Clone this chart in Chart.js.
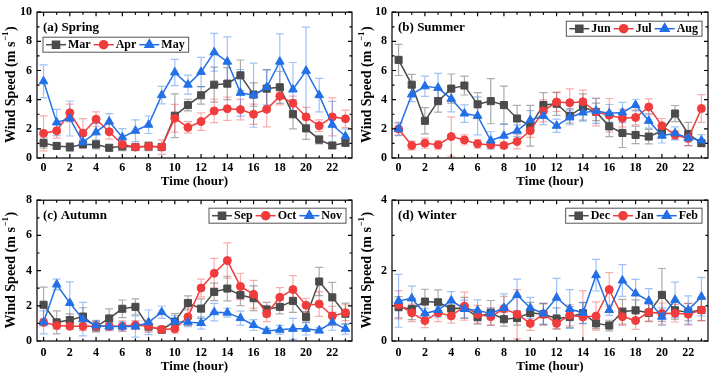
<!DOCTYPE html>
<html>
<head>
<meta charset="utf-8">
<script src="https://cdn.jsdelivr.net/npm/chart.js@4.4.1/dist/chart.umd.min.js"></script>
<style>
body{margin:0;background:#fff;}
#wrap{position:relative;width:717px;height:377px;background:#fff;}
canvas{position:absolute;}
</style>
</head>
<body>
<div id="wrap">
<canvas id="ca" width="358" height="188" style="left:0;top:0"></canvas>
<canvas id="cb" width="359" height="188" style="left:358px;top:0"></canvas>
<canvas id="cc" width="358" height="189" style="left:0;top:188px"></canvas>
<canvas id="cd" width="359" height="189" style="left:358px;top:188px"></canvas>
</div>
<script>
const hours = [0,1,2,3,4,5,6,7,8,9,10,11,12,13,14,15,16,17,18,19,20,21,22,23];

// (a) Spring
const marMean = [1.02,0.83,0.75,0.93,0.93,0.7,0.8,0.75,0.8,0.75,2.9,3.63,4.3,5.03,5.1,5.67,4.35,4.76,4.85,3.0,2.03,1.26,0.86,1.04];
const marErr  = [0.35,0.15,0.3,0.15,0.3,0.2,0.3,0.15,0.3,0.1,1.5,0.4,0.6,1.2,1.1,1.05,0.8,1.3,1.1,1.0,0.75,0.3,0.2,0.2];
const aprMean = [1.69,1.87,3.1,1.7,2.66,1.8,0.93,0.75,0.8,0.75,2.73,2.1,2.5,3.23,3.38,3.32,3.0,3.34,4.24,3.75,2.82,2.21,2.82,2.69];
const aprErr  = [1.2,0.5,0.6,1.0,0.5,0.5,0.3,0.15,0.25,0.5,0.95,0.4,0.6,0.8,0.8,0.7,0.7,1.2,0.6,0.5,0.65,0.4,1.3,0.6];
const mayMean = [5.26,2.44,2.71,1.08,1.76,2.5,1.42,1.87,2.28,4.31,5.87,5.03,5.9,7.25,6.61,4.47,4.31,4.85,6.61,4.7,5.98,4.31,2.28,1.49];
const mayErr  = [1.13,0.9,1.2,0.2,0.6,0.55,0.6,0.75,0.6,0.6,0.9,0.65,1.0,1.3,1.7,1.6,2.2,1.2,1.9,1.85,3.0,1.15,1.6,0.5];

// (b) Summer
const junMean = [6.73,5.03,2.55,3.9,4.76,4.97,3.68,3.9,3.63,2.71,2.21,3.63,3.72,2.89,3.5,3.16,2.17,1.72,1.58,1.47,1.83,3.05,1.65,1.02];
const junErr  = [1.07,0.7,0.9,0.75,1.0,0.65,0.8,1.55,1.3,0.9,1.4,0.85,0.8,0.5,0.9,0.6,0.7,1.0,0.6,0.5,0.4,0.55,0.8,0.2];
const julMean = [1.99,0.86,1.02,0.9,1.47,1.24,0.97,0.9,0.86,1.13,1.87,3.23,3.84,3.79,3.86,3.16,2.93,2.73,2.78,3.5,2.21,1.58,1.35,3.39];
const julErr  = [0.4,0.3,0.35,0.3,1.35,0.35,0.3,0.2,0.2,0.5,0.45,0.75,0.65,0.95,0.8,0.95,1.15,0.6,0.5,0.55,0.5,0.3,0.5,0.95];
const augMean = [1.99,4.36,4.92,4.81,4.06,3.05,2.89,1.2,1.53,1.87,2.6,2.89,2.21,2.78,3.12,3.23,3.07,3.12,3.63,2.55,1.53,1.69,1.38,1.2];
const augErr  = [0.45,0.5,0.7,1.0,0.9,0.6,1.3,0.6,0.8,0.4,0.65,0.6,0.45,0.5,0.6,0.85,0.6,0.7,0.4,0.5,0.5,0.45,0.3,0.4];

// (c) Autumn
const sepMean = [2.06,1.06,1.19,1.39,0.82,1.28,1.83,1.94,0.82,0.64,1.1,2.16,1.84,2.79,2.98,2.61,2.43,1.79,1.94,2.28,1.37,3.38,2.48,1.55];
const sepErr  = [1.0,0.65,0.35,0.5,0.3,0.55,0.5,0.45,0.25,0.15,0.45,0.4,0.55,0.5,0.7,0.6,0.7,0.4,0.4,0.65,0.3,0.8,0.85,0.6];
const octMean = [1.06,0.88,0.84,0.84,0.84,0.84,0.84,0.91,0.84,0.66,0.69,1.37,3.01,3.85,4.57,3.1,2.65,1.55,2.48,2.92,2.03,2.1,1.42,1.61];
const octErr  = [0.2,0.2,0.2,0.25,0.3,0.25,0.3,0.25,0.35,0.15,0.25,0.5,0.5,0.85,1.0,0.75,0.8,0.45,0.55,0.8,0.4,0.7,0.55,0.45];
const novMean = [1.06,3.21,2.16,1.24,0.88,0.82,0.82,0.82,1.06,1.64,1.1,1.06,1.02,1.64,1.61,1.3,0.91,0.57,0.64,0.69,0.69,0.6,1.06,0.69];
const novErr  = [0.65,0.3,1.2,0.95,0.3,0.2,0.25,0.6,0.7,0.35,0.35,0.25,0.35,0.5,0.25,0.4,0.3,0.15,0.25,0.6,0.35,0.15,0.45,0.3];

// (d) Winter
const decMean = [0.96,0.91,1.12,1.1,0.92,0.94,0.68,0.8,0.62,0.65,0.8,0.76,0.64,0.68,0.79,0.5,0.44,0.83,0.87,0.8,1.31,0.87,0.82,0.88];
const decErr  = [0.3,0.3,0.35,0.35,0.2,0.3,0.2,0.35,0.2,0.2,0.3,0.3,0.3,0.3,0.3,0.15,0.15,0.35,0.3,0.25,0.75,0.25,0.25,0.3];
const janMean = [1.03,0.8,0.58,0.8,0.71,0.99,0.76,0.69,0.92,0.76,0.5,0.76,0.5,0.73,0.68,0.71,1.46,0.69,0.58,0.82,0.78,0.79,0.76,0.88];
const janErr  = [0.4,0.25,0.2,0.25,0.2,0.4,0.25,0.25,0.35,0.7,0.2,0.3,0.15,0.3,0.75,0.4,0.48,0.25,0.25,0.25,0.3,0.25,0.3,0.3];
const febMean = [1.14,1.21,0.78,0.88,1.15,0.91,0.87,0.78,0.94,1.31,0.94,0.78,1.23,0.91,0.8,1.87,0.88,1.72,1.35,1.14,0.69,1.17,0.88,1.26];
const febErr  = [0.75,0.35,0.15,0.2,0.25,0.25,0.3,0.15,0.4,0.45,0.3,0.3,0.55,0.55,0.3,0.45,0.15,0.45,0.4,0.35,0.25,0.5,0.4,0.55];

const xTicks = [0,2,4,6,8,10,12,14,16,18,20,22];

const GRAY = '#4b4b4b', RED = '#f03c3c', BLUE = '#2370e6';
const GRAY_E = 'rgba(90,90,90,0.5)', RED_E = 'rgba(240,70,70,0.45)', BLUE_E = 'rgba(40,120,235,0.45)';
const FONT = '"Liberation Serif","Times New Roman",serif';

function series(label, mean, err, color, ecolor, style, r, order) {
  return {
    label: label,
    data: hours.map((h, i) => ({x: h, y: mean[i]})),
    errors: err,
    errColor: ecolor,
    borderColor: color,
    backgroundColor: color,
    pointBackgroundColor: color,
    pointBorderColor: color,
    pointStyle: style,
    pointRadius: r,
    pointBorderWidth: 1,
    borderWidth: 1.5,
    order: order
  };
}

const panelPlugin = {
  id: 'panel',
  beforeDatasetsDraw(chart) {
    const ctx = chart.ctx, xs = chart.scales.x, ys = chart.scales.y;
    chart.data.datasets.forEach(ds => {
      ctx.save();
      ctx.strokeStyle = ds.errColor;
      ctx.lineWidth = 1.2;
      ds.data.forEach((p, i) => {
        const e = ds.errors[i];
        const x = xs.getPixelForValue(p.x);
        const y1 = ys.getPixelForValue(p.y + e);
        const y0 = ys.getPixelForValue(Math.max(p.y - e, ys.min));
        ctx.beginPath();
        ctx.moveTo(x, y0); ctx.lineTo(x, y1);
        ctx.moveTo(x - 4, y1); ctx.lineTo(x + 4, y1);
        if (p.y - e > ys.min) { ctx.moveTo(x - 4, y0); ctx.lineTo(x + 4, y0); }
        ctx.stroke();
      });
      ctx.restore();
    });
  },
  afterDraw(chart) {
    const o = chart.options.plugins.panel;
    const ctx = chart.ctx, a = chart.chartArea, xs = chart.scales.x, ys = chart.scales.y;
    ctx.save();
    // frame
    ctx.strokeStyle = '#000';
    ctx.lineWidth = 1.2;
    ctx.strokeRect(a.left, a.top, a.right - a.left, a.bottom - a.top);
    // inward ticks
    ctx.beginPath();
    for (let h = 0; h <= 23; h++) {
      const x = xs.getPixelForValue(h);
      const len = h % 2 === 0 ? 4 : 2.5;
      ctx.moveTo(x, a.bottom); ctx.lineTo(x, a.bottom - len);
      ctx.moveTo(x, a.top); ctx.lineTo(x, a.top + len);
    }
    for (let v = 0; v <= ys.max; v += 1) {
      const y = ys.getPixelForValue(v);
      const len = v % 2 === 0 ? 4 : 2.5;
      ctx.moveTo(a.left, y); ctx.lineTo(a.left + len, y);
      ctx.moveTo(a.right, y); ctx.lineTo(a.right - len, y);
    }
    ctx.stroke();
    // panel title
    ctx.fillStyle = '#000';
    ctx.font = 'bold 13px ' + FONT;
    ctx.textBaseline = 'middle';
    ctx.textAlign = 'left';
    ctx.fillText(o.title, a.left + 6, a.top + 15);
    // x title
    ctx.font = 'bold 13px ' + FONT;
    ctx.textAlign = 'center';
    ctx.fillText('Time (hour)', (a.left + a.right) / 2, o.xTitleY);
    // y title with superscript
    ctx.save();
    ctx.translate(o.yTitleX, (a.top + a.bottom) / 2);
    ctx.rotate(-Math.PI / 2);
    const t1 = 'Wind Speed (m s', t2 = '\u22121', t3 = ')';
    ctx.font = 'bold 14px ' + FONT;
    const w1 = ctx.measureText(t1).width, w3 = ctx.measureText(t3).width;
    ctx.font = 'bold 9px ' + FONT;
    const w2 = ctx.measureText(t2).width;
    let x0 = -(w1 + w2 + w3) / 2;
    ctx.textAlign = 'left';
    ctx.font = 'bold 14px ' + FONT;
    ctx.fillText(t1, x0, 0);
    ctx.font = 'bold 9px ' + FONT;
    ctx.fillText(t2, x0 + w1 + 0.5, -5);
    ctx.font = 'bold 14px ' + FONT;
    ctx.fillText(t3, x0 + w1 + w2 + 1, 0);
    ctx.restore();
    // legend
    ctx.font = 'bold 12px ' + FONT;
    const items = chart.data.datasets;
    let w = 4;
    items.forEach(ds => { w += 22 + ctx.measureText(ds.label).width + 3; });
    const lx = o.legendRight ? a.right - 6 - w : a.left + 6;
    const ly = a.top + o.legendTop, lh = 15;
    ctx.strokeStyle = '#555';
    ctx.lineWidth = 1;
    ctx.strokeRect(lx, ly, w, lh);
    let cx = lx + 3;
    const cy = ly + lh / 2;
    items.forEach(ds => {
      ctx.strokeStyle = ds.borderColor;
      ctx.lineWidth = 1.5;
      ctx.beginPath(); ctx.moveTo(cx, cy); ctx.lineTo(cx + 20, cy); ctx.stroke();
      Chart.helpers.drawPoint(ctx, {pointStyle: ds.pointStyle, radius: ds.pointRadius, borderWidth: 1, rotation: 0}, cx + 10, cy);
      ctx.fillStyle = ds.borderColor;
      ctx.fill();
      cx += 22;
      ctx.fillStyle = '#000';
      ctx.textAlign = 'left';
      ctx.fillText(ds.label, cx, cy + 0.5);
      cx += ctx.measureText(ds.label).width + 3;
    });
    ctx.restore();
  }
};

function makePanel(id, cfg) {
  const tickFont = {family: FONT, size: 12, weight: 'bold'};
  return new Chart(document.getElementById(id), {
    type: 'line',
    data: {datasets: cfg.datasets},
    options: {
      responsive: false,
      animation: false,
      devicePixelRatio: 1,
      layout: {padding: {top: cfg.padTop, right: cfg.padRight, left: 0, bottom: 0}},
      plugins: {
        legend: {display: false},
        tooltip: {enabled: false},
        panel: cfg.panel
      },
      scales: {
        x: {
          type: 'linear', min: -0.5, max: 23.5,
          grid: {display: false, drawTicks: false},
          border: {display: false},
          afterBuildTicks: s => { s.ticks = xTicks.map(v => ({value: v})); },
          afterFit: s => { s.height = cfg.xHeight; },
          ticks: {color: '#000', font: tickFont, padding: cfg.xPad, maxRotation: 0}
        },
        y: {
          min: 0, max: cfg.yMax,
          grid: {display: false, drawTicks: false},
          border: {display: false},
          afterFit: s => { s.width = cfg.yWidth; },
          ticks: {color: '#000', font: tickFont, stepSize: 2, padding: 5}
        }
      }
    },
    plugins: [panelPlugin]
  });
}

makePanel('ca', {
  datasets: [
    series('Mar', marMean, marErr, GRAY, GRAY_E, 'rect', 5, 3),
    series('Apr', aprMean, aprErr, RED, RED_E, 'circle', 4, 2),
    series('May', mayMean, mayErr, BLUE, BLUE_E, 'triangle', 5, 1)
  ],
  yMax: 10, padTop: 10, padRight: 5, yWidth: 37, xHeight: 30, xPad: 3,
  panel: {title: '(a) Spring', legendRight: false, legendTop: 25, yTitleX: 11, xTitleY: 182}
});
makePanel('cb', {
  datasets: [
    series('Jun', junMean, junErr, GRAY, GRAY_E, 'rect', 5, 3),
    series('Jul', julMean, julErr, RED, RED_E, 'circle', 4, 2),
    series('Aug', augMean, augErr, BLUE, BLUE_E, 'triangle', 5, 1)
  ],
  yMax: 10, padTop: 10, padRight: 9, yWidth: 34, xHeight: 30, xPad: 3,
  panel: {title: '(b) Summer', legendRight: true, legendTop: 9, yTitleX: 9, xTitleY: 182}
});
makePanel('cc', {
  datasets: [
    series('Sep', sepMean, sepErr, GRAY, GRAY_E, 'rect', 5, 3),
    series('Oct', octMean, octErr, RED, RED_E, 'circle', 4, 2),
    series('Nov', novMean, novErr, BLUE, BLUE_E, 'triangle', 5, 1)
  ],
  yMax: 8, padTop: 7, padRight: 5, yWidth: 37, xHeight: 36, xPad: 5,
  panel: {title: '(c) Autumn', legendRight: true, legendTop: 8, yTitleX: 11, xTitleY: 179}
});
makePanel('cd', {
  datasets: [
    series('Dec', decMean, decErr, GRAY, GRAY_E, 'rect', 5, 3),
    series('Jan', janMean, janErr, RED, RED_E, 'circle', 4, 2),
    series('Feb', febMean, febErr, BLUE, BLUE_E, 'triangle', 5, 1)
  ],
  yMax: 4, padTop: 7, padRight: 9, yWidth: 34, xHeight: 36, xPad: 5,
  panel: {title: '(d) Winter', legendRight: true, legendTop: 8, yTitleX: 9, xTitleY: 179}
});
</script>
</body>
</html>
